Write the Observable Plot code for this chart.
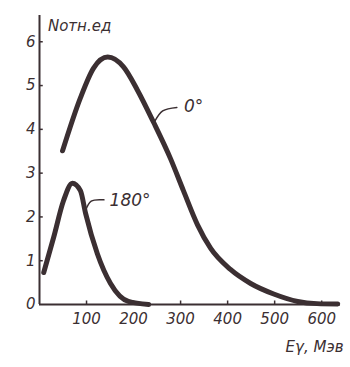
<!DOCTYPE html>
<html>
<head>
<meta charset="utf-8">
<script src="https://cdn.jsdelivr.net/npm/d3@7"></script>
<script src="https://cdn.jsdelivr.net/npm/@observablehq/plot@0.6"></script>
<style>
  html, body { margin: 0; padding: 0; background: #fff; }
  svg { display: block; }
  svg text { font-style: italic; }
</style>
</head>
<body>
<div id="chart"></div>
<script>
// Data
const energy0 = [49, 87, 115, 145, 179, 208, 243, 279, 306, 336, 364, 406, 449, 498, 549, 590, 634];
const n0      = [3.51, 4.72, 5.40, 5.65, 5.42, 4.90, 4.15, 3.32, 2.60, 1.82, 1.28, 0.80, 0.48, 0.24, 0.07, 0.02, 0.01];
const energy180 = [9, 30, 51, 70, 87, 98, 123, 151, 189, 232];
const n180      = [0.73, 1.53, 2.37, 2.77, 2.6, 2.08, 1.16, 0.48, 0.07, 0.0];
const xTicks = [100, 200, 300, 400, 500, 600];
const yTicks = [0, 1, 2, 3, 4, 5, 6];
const seriesLabels = ["0°", "180°"];
const labelE = [307, 149];
const labelN = [4.52, 2.37];
const leader0 = [{E: 245, N: 4.18}, {E: 262, N: 4.42}, {E: 292, N: 4.50}];
const leader180 = [{E: 97, N: 2.12}, {E: 110, N: 2.36}, {E: 137, N: 2.39}];
const yTitle = "Nотн.ед";
const xTitle = "Eγ, Мэв";

const ink = "#3b2f32";
const font = "DejaVu Sans, sans-serif";

const s0 = energy0.map((e, i) => ({E: e, N: n0[i]}));
const s180 = energy180.map((e, i) => ({E: e, N: n180[i]}));
const labels = seriesLabels.map((t, i) => ({t, E: labelE[i], N: labelN[i]}));

const chart = Plot.plot({
  width: 350,
  height: 367,
  marginLeft: 39,
  marginRight: 10,
  marginTop: 15,
  marginBottom: 63,
  style: {fontFamily: font, fontStyle: "italic", color: ink, background: "#fff"},
  x: {domain: [0, 640]},
  y: {domain: [0, 6.6]},
  marks: [
    Plot.axisX({ticks: xTicks, tickSize: 0, tickPadding: 9, fontSize: 15, label: null, fill: ink}),
    Plot.axisY({ticks: yTicks, tickSize: 0, tickPadding: 4, fontSize: 15, label: null, fill: ink, tickFormat: d3.format("d")}),
    Plot.ruleX(xTicks, {x: d => d, y1: 0, y2: 0.08, stroke: ink, strokeWidth: 1.5}),
    Plot.ruleY(yTicks.slice(1), {y: d => d, x1: 0, x2: 8, stroke: ink, strokeWidth: 1.5}),
    Plot.ruleY([0], {stroke: ink, strokeWidth: 2}),
    Plot.ruleX([0], {stroke: ink, strokeWidth: 2}),
    Plot.line(s0, {x: "E", y: "N", curve: "monotone-x", stroke: ink, strokeWidth: 5, strokeLinecap: "round"}),
    Plot.line(s180, {x: "E", y: "N", curve: "monotone-x", stroke: ink, strokeWidth: 5, strokeLinecap: "round"}),
    Plot.line(leader0, {x: "E", y: "N", curve: "catmull-rom", stroke: ink, strokeWidth: 1.5}),
    Plot.line(leader180, {x: "E", y: "N", curve: "catmull-rom", stroke: ink, strokeWidth: 1.5}),
    Plot.text(labels, {x: "E", y: "N", text: "t", textAnchor: "start", fontSize: 17, fill: ink}),
    Plot.text([yTitle], {x: 18, y: 6.35, text: d => d, textAnchor: "start", fontSize: 15, fill: ink}),
    Plot.text([xTitle], {frameAnchor: "bottom-right", text: d => d, dx: 3, dy: 47, textAnchor: "end", fontSize: 15, fill: ink})
  ]
});
document.getElementById("chart").appendChild(chart);
</script>
</body>
</html>
